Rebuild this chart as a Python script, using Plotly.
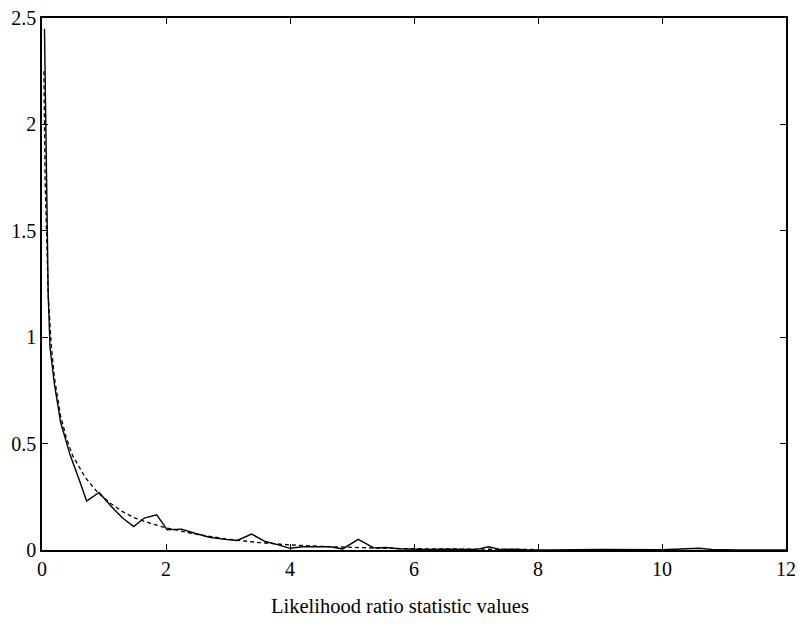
import plotly.graph_objects as go

# Empirical density of the likelihood ratio statistic (solid)
emp_x = [0.04, 0.07, 0.10, 0.13, 0.20, 0.30, 0.45, 0.60, 0.72, 0.92, 1.10, 1.30,
         1.48, 1.65, 1.85, 2.02, 2.25, 2.45, 2.70, 2.95, 3.15, 3.38, 3.60, 3.80,
         4.00, 4.20, 4.45, 4.65, 4.85, 5.10, 5.35, 5.55, 5.75, 5.95, 6.20, 6.50,
         6.80, 7.00, 7.20, 7.40, 7.60, 7.80, 8.20, 9.00, 10.00, 10.40, 10.60,
         10.80, 11.20, 12.00]
emp_y = [2.45, 1.80, 1.20, 0.95, 0.78, 0.60, 0.45, 0.33, 0.23, 0.27, 0.21, 0.15,
         0.11, 0.15, 0.165, 0.095, 0.098, 0.080, 0.060, 0.050, 0.045, 0.075, 0.040,
         0.025, 0.008, 0.015, 0.014, 0.015, 0.005, 0.050, 0.010, 0.012, 0.006,
         0.004, 0.002, 0.004, 0.002, 0.002, 0.015, 0.002, 0.004, 0.001, 0.0,
         0.002, 0.001, 0.004, 0.008, 0.003, 0.0, 0.0]

# Reference chi-square(1) density (dashed)
ref_x = [0.03, 0.05, 0.10, 0.15, 0.20, 0.30, 0.40, 0.50, 0.70, 0.90, 1.10, 1.30,
         1.50, 1.75, 2.00, 2.25, 2.50, 2.75, 3.00, 3.50, 4.00, 4.50, 5.00, 5.50,
         6.00, 7.00, 8.00]
ref_y = [2.25, 1.74, 1.20, 0.96, 0.81, 0.63, 0.52, 0.44, 0.34, 0.27, 0.22, 0.18,
         0.15, 0.125, 0.104, 0.088, 0.073, 0.062, 0.051, 0.035, 0.024, 0.017,
         0.012, 0.008, 0.006, 0.003, 0.002]

x_ticks = [0, 2, 4, 6, 8, 10, 12]
y_ticks = [0, 0.5, 1, 1.5, 2, 2.5]
y_tick_text = ["0", "0.5", "1", "1.5", "2", "2.5"]
x_label = "Likelihood ratio statistic values"

serif = "Times New Roman, Liberation Serif, DejaVu Serif"

fig = go.Figure()
fig.add_trace(go.Scatter(x=ref_x, y=ref_y, mode="lines",
                         line=dict(color="black", width=1.3, dash="4px,3px"),
                         showlegend=False))
fig.add_trace(go.Scatter(x=emp_x, y=emp_y, mode="lines",
                         line=dict(color="black", width=1.4),
                         showlegend=False))

axis_common = dict(showline=True, linecolor="black", linewidth=1.6, mirror="ticks",
                   ticks="inside", ticklen=6, tickcolor="black", tickwidth=1.2,
                   showgrid=False, zeroline=False, ticklabeloverflow="allow",
                   tickfont=dict(family=serif, size=20, color="black"))

fig.update_layout(
    width=801, height=624,
    margin=dict(l=42, r=5, t=18, b=74),
    paper_bgcolor="white", plot_bgcolor="white",
    font=dict(family=serif, color="black"),
    xaxis=dict(range=[0, 12], tickvals=x_ticks, **axis_common),
    yaxis=dict(range=[0, 2.5], tickvals=y_ticks, ticktext=y_tick_text, **axis_common),
    annotations=[dict(text=x_label, xref="paper", yref="paper",
                      x=0.481, y=-0.105, xanchor="center", yanchor="middle",
                      showarrow=False,
                      font=dict(family=serif, size=20.5, color="black"))],
)

fig.write_html("out.html")
